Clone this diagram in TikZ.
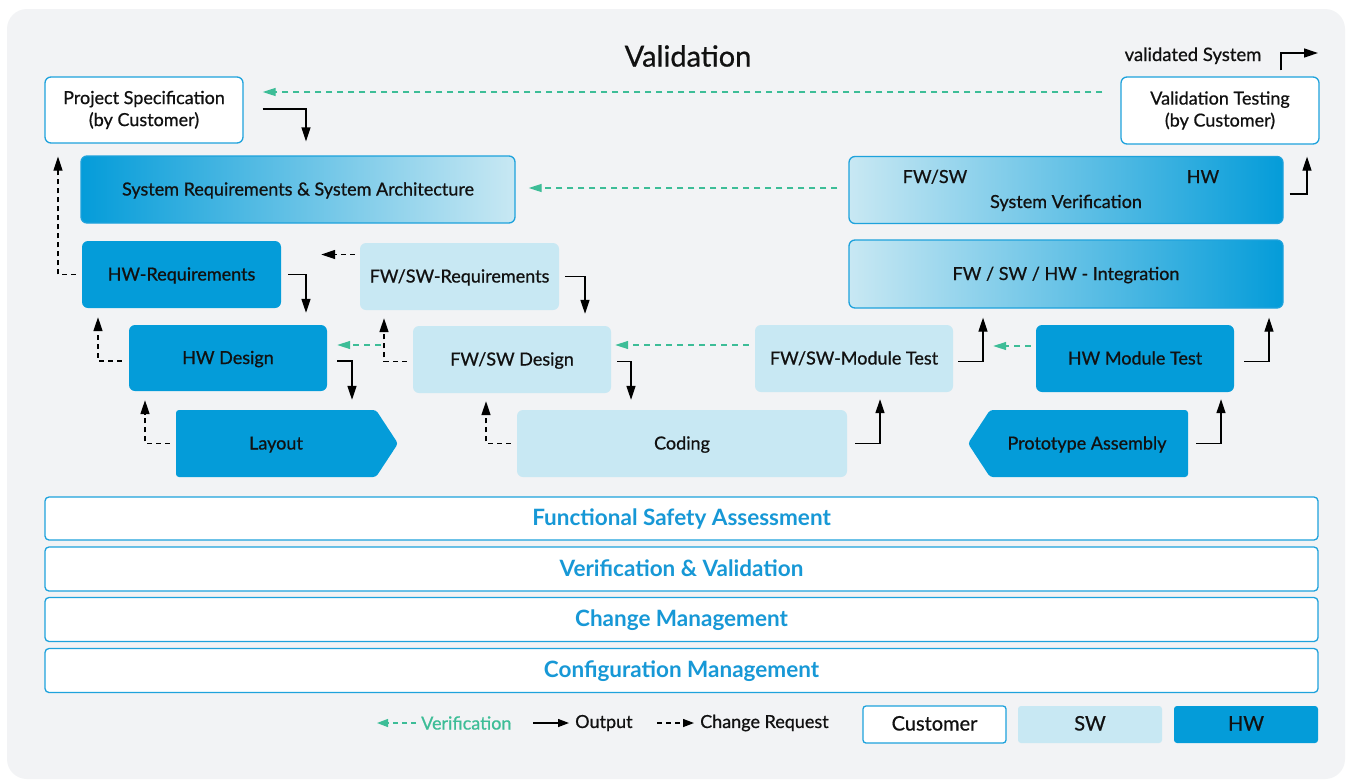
\documentclass[tikz,border=0pt]{standalone}
\usepackage{fontspec}
\setmainfont{Lato}[FakeBold=0.7]
\newfontfamily\barfont{Lato}
\usetikzlibrary{arrows.meta,calc}
\definecolor{hwc}{HTML}{049CD9}
\definecolor{swc}{HTML}{C8E8F3}
\definecolor{bordc}{HTML}{1EA2DC}
\definecolor{verc}{HTML}{3DBD97}
\definecolor{bgc}{HTML}{F2F3F5}
\definecolor{bartext}{HTML}{1798D6}
\definecolor{txt}{HTML}{111111}
\begin{document}
\begin{tikzpicture}[x=1pt,y=-1pt,
  base/.style={rounded corners=6pt, inner sep=0pt, align=center, font=\fontsize{18}{22}\selectfont, text=txt, minimum height=67pt},
  oneline/.style={text height=12pt, text depth=-1pt},
  custbox/.style={base, draw=bordc, line width=1.3pt, fill=white},
  swbox/.style={base, oneline, fill=swc},
  hwbox/.style={base, oneline, fill=hwc},
  plain/.style={base, oneline, draw=none, fill=none},
  gradLR/.style={base, oneline, draw=bordc, line width=1.3pt, left color=hwc, right color=swc},
  gradRL/.style={base, oneline, draw=bordc, line width=1.3pt, left color=swc, right color=hwc},
  lbl/.style={inner sep=0pt, oneline, font=\fontsize{18}{22}\selectfont, text=txt},
  outp/.style={-{Triangle[length=14pt,width=9pt]}, line width=1.3pt, black},
  chreq/.style={outp, dash pattern=on 5pt off 4pt},
  verif/.style={-{Triangle[length=13pt,width=8pt]}, line width=1.3pt, verc, dash pattern=on 6pt off 5pt},
  bar/.style={draw=bordc, line width=1.3pt, fill=white, rounded corners=4pt, minimum width=1273pt, inner sep=0pt, text height=14pt, text depth=-1pt, font=\barfont\bfseries\fontsize{22.5}{26}\selectfont, text=bartext},
  lgd/.style={inner sep=0pt, anchor=west, font=\fontsize{18}{22}\selectfont, text=txt},
  smalltip/.style={-{Triangle[length=11pt,width=8pt]}}
]
\useasboundingbox (0,0) rectangle (1352,780);
\fill[white] (0,0) rectangle (1352,780);
\fill[bgc, rounded corners=20pt] (7,9) rectangle (1345,779);

% title
\node[inner sep=0pt, font=\fontsize{29}{34}\selectfont, text=txt] (title) at (688,56) {Validation};
\node[lbl, font=\fontsize{18.5}{22}\selectfont] (valsys) at (1193,55) {validated System};
\coordinate (valout) at (1318,53);

% top boxes
\node[custbox, minimum width=198pt, minimum height=66pt] (pspec) at (144,110) {Project Specification\\(by Customer)};
\node[custbox, minimum width=198pt] (valtest) at (1220,110.5) {Validation Testing\\(by Customer)};
\node[gradLR, minimum width=434pt] (sysreq) at (298,189.5) {System Requirements \& System Architecture};
\node[gradRL, minimum width=434pt] (sysver) at (1066,190) {};
\node[lbl] (svfw) at (935,177) {FW/SW};
\node[lbl] (svhw) at (1203,177) {HW};
\node[lbl] (svsys) at (1066,202) {System Verification};
\node[gradRL, minimum width=434pt, minimum height=68pt] (integ) at (1066,274) {FW / SW / HW - Integration};

% second row
\node[hwbox, minimum width=199pt] (hwreq) at (181.5,274.5) {HW-Requirements};
\node[swbox, minimum width=199pt] (fwreq) at (459.5,276.5) {FW/SW-Requirements};

% third row
\node[hwbox, minimum width=198pt, minimum height=66pt] (hwdes) at (228,358) {HW Design};
\node[swbox, minimum width=198pt] (fwdes) at (512,359.5) {FW/SW Design};
\node[swbox, minimum width=198pt] (fwmod) at (854,358.5) {FW/SW-Module Test};
\node[hwbox, minimum width=198pt] (hwmod) at (1135,358.5) {HW Module Test};

% fourth row
\fill[hwc, rounded corners=3pt] (176,410) -- (376,410) -- (398,443.5) -- (376,477) -- (176,477) -- cycle;
\fill[hwc, rounded corners=3pt] (968,443.5) -- (990,410) -- (1188,410) -- (1188,477) -- (990,477) -- cycle;
\node[plain, minimum width=200pt] (layout) at (276,443.5) {Layout};
\node[swbox, minimum width=330pt] (coding) at (682,443.5) {Coding};
\node[plain, minimum width=198pt] (proto) at (1087,443.5) {Prototype Assembly};

% output arrows
\draw[outp] ($(pspec.east)+(19,-1)$) -| ($(sysreq.north)+(8,-14)$);
\draw[outp] ($(sysver.east)+(6,4)$) -| ($(valtest.south)+(87,12)$);
\draw[outp] ($(valtest.north)+(61,-6)$) |- (valout);
\draw[outp] ($(hwreq.east)+(7,0)$) -| ($(hwdes.north)+(78,-12)$);
\draw[outp] ($(fwreq.east)+(6,0)$) -| ($(fwdes.north)+(73,-12)$);
\draw[outp] ($(hwdes.east)+(10,3)$) -| ($(layout.north)+(76,-10)$);
\draw[outp] ($(fwdes.east)+(6,2)$) -| ($(coding.north)+(-51,-10)$);
\draw[outp] ($(coding.east)+(8,0)$) -| ($(fwmod.south)+(26,7)$);
\draw[outp] ($(proto.east)+(10,0)$) -| ($(hwmod.south)+(86,7)$);
\draw[outp] ($(fwmod.east)+(5,3)$) -| ($(integ.south)+(-83,9)$);
\draw[outp] ($(hwmod.east)+(10,3)$) -| ($(integ.south)+(203,9)$);

% change requests
\draw[chreq] ($(hwreq.west)+(-6,0)$) -| ($(pspec.south)+(-86,13)$);
\draw[chreq] ($(hwdes.west)+(-7,3)$) -| ($(hwreq.south)+(-83.5,9)$);
\draw[chreq] ($(layout.west)+(-6,0)$) -| ($(hwdes.south)+(-83,9)$);
\draw[chreq] ($(fwreq.west)+(-5,-22)$) -- ($(hwreq.east)+(40,-20)$);
\draw[chreq] ($(fwdes.west)+(-6,2)$) -| ($(fwreq.south)+(-75.5,8)$);
\draw[chreq] ($(coding.west)+(-6,0)$) -| ($(fwdes.south)+(-26,8)$);

% verification
\draw[verif] ($(valtest.west)+(-18,-18.5)$) -- ($(pspec.east)+(19,-18)$);
\draw[verif] ($(sysver.west)+(-11,-2)$) -- ($(sysreq.east)+(13,-1.5)$);
\draw[verif] ($(hwmod.west)+(-5,-12.5)$) -- ($(fwmod.east)+(40,-12.5)$);
\draw[verif] ($(fwmod.west)+(-6,-13.5)$) -- ($(fwdes.east)+(4,-14.5)$);
\draw[verif] ($(fwdes.west)+(-32,-14.5)$) -- ($(hwdes.east)+(10,-13)$);

% bars
\node[bar, minimum height=43pt] (fsa) at (681.5,518.5) {Functional Safety Assessment};
\node[bar, minimum height=44pt] (vv) at (681.5,569) {Verification \& Validation};
\node[bar, minimum height=44pt] (cm) at (681.5,619.5) {Change Management};
\node[bar, minimum height=44pt] (cfg) at (681.5,670.5) {Configuration Management};

% legend
\node[lgd, text=verc] (lv) at (421,723) {Verification};
\draw[verif, smalltip, dash pattern=on 5pt off 4pt] ($(lv.west)+(-5,0)$) -- ($(lv.west)+(-44,0)$);
\node[lgd] (lo) at (575,723) {Output};
\draw[outp, smalltip] ($(lo.west)+(-42,0)$) -- ($(lo.west)+(-6,0)$);
\node[lgd] (lc) at (700,723) {Change Request};
\draw[chreq, smalltip] ($(lc.west)+(-43,0)$) -- ($(lc.west)+(-6,0)$);
\node[custbox, oneline, rounded corners=3pt, minimum width=143pt, minimum height=37pt, font=\fontsize{20}{24}\selectfont] (lcust) at (934.5,724.5) {Customer};
\node[swbox, rounded corners=3pt, minimum width=144pt, minimum height=37pt, font=\fontsize{20}{24}\selectfont] (lsw) at (1090,724.5) {SW};
\node[hwbox, rounded corners=3pt, minimum width=144pt, minimum height=37pt, font=\fontsize{20}{24}\selectfont] (lhw) at (1246,724.5) {HW};
\end{tikzpicture}
\end{document}
